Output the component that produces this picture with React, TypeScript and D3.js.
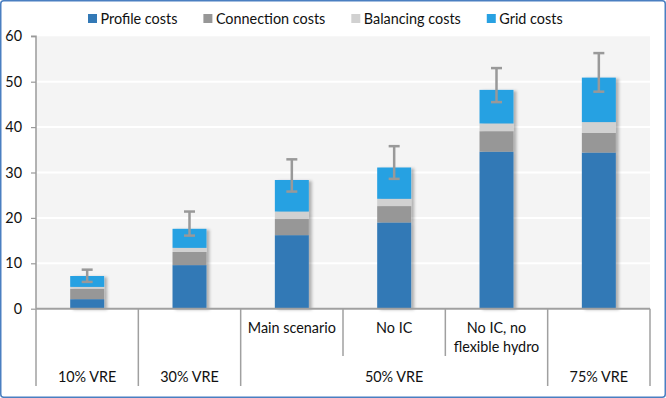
import React, { useEffect, useRef } from 'react';
import * as d3 from 'd3';

// categories (unique keys), bottom labels
const categories = ['10% VRE', '30% VRE', 'Main scenario', 'No IC', 'No IC, no flexible hydro', '75% VRE'];
const scenarioLabels = [[], [], ['Main scenario'], ['No IC'], ['No IC, no', 'flexible hydro'], []];
const groupLabels = ['10% VRE', '30% VRE', '50% VRE', '75% VRE'];
const groupSpans = [1, 1, 3, 1];

// stacked components
const seriesNames = ['Profile costs', 'Connection costs', 'Balancing costs', 'Grid costs'];
const profile = [2.1, 9.6, 16.2, 19.0, 34.6, 34.4];
const connection = [2.3, 2.9, 3.55, 3.6, 4.5, 4.3];
const balancing = [0.4, 0.9, 1.65, 1.6, 1.7, 2.4];
const grid = [2.4, 4.2, 6.95, 6.9, 7.4, 9.8];

// error bar range
const errLow = [5.9, 16.1, 25.8, 28.6, 45.5, 47.8];
const errHigh = [8.6, 21.4, 32.9, 35.8, 53.0, 56.3];

const yTicks = [0, 10, 20, 30, 40, 50, 60];

const colors = ['#3379b6', '#979797', '#d1d1d1', '#28a1e2'];

const W = 666;
const H = 398;

export default function App() {
  const svgRef = useRef<SVGSVGElement | null>(null);

  useEffect(() => {
    const svg = d3.select(svgRef.current);
    svg.selectAll('*').remove();

    const plot = { left: 36, right: 650, top: 36.3, bottom: 308.7 };
    const font = 'Lato, "Open Sans", sans-serif';
    const fs = '14.4px';

    const defs = svg.append('defs');
    const f = defs
      .append('filter')
      .attr('id', 'shadow')
      .attr('x', '-20%')
      .attr('y', '-10%')
      .attr('width', '150%')
      .attr('height', '130%');
    f.append('feDropShadow')
      .attr('dx', 3)
      .attr('dy', 1)
      .attr('stdDeviation', 1.8)
      .attr('flood-color', '#000')
      .attr('flood-opacity', 0.28);

    // white background and outer border
    svg.append('rect').attr('width', W).attr('height', H).attr('fill', '#fff');
    svg
      .append('rect')
      .attr('x', 0.75)
      .attr('y', 0.75)
      .attr('width', W - 1.5)
      .attr('height', H - 1.5)
      .attr('rx', 3)
      .attr('fill', 'none')
      .attr('stroke', '#4a7fc1')
      .attr('stroke-width', 1.5);

    const x = d3
      .scaleBand()
      .domain(categories)
      .range([plot.left, plot.right])
      .paddingInner(0.668)
      .paddingOuter(0.334);

    const y = d3.scaleLinear().domain([0, 60]).range([plot.bottom, plot.top]);

    // plot background + gridlines
    svg
      .append('rect')
      .attr('x', plot.left)
      .attr('y', plot.top)
      .attr('width', plot.right - plot.left)
      .attr('height', plot.bottom - plot.top)
      .attr('fill', '#f4f4f4');

    svg
      .append('g')
      .selectAll('line')
      .data(yTicks.filter((t) => t > 0 && t < 60))
      .join('line')
      .attr('x1', plot.left)
      .attr('x2', plot.right)
      .attr('y1', (d) => y(d))
      .attr('y2', (d) => y(d))
      .attr('stroke', '#ffffff')
      .attr('stroke-width', 2);

    // stacked bars
    const table = categories.map((c, i) => ({
      cat: c,
      'Profile costs': profile[i],
      'Connection costs': connection[i],
      'Balancing costs': balancing[i],
      'Grid costs': grid[i],
    }));
    const stacked = d3.stack<any>().keys(seriesNames)(table);

    const barGroups = svg
      .append('g')
      .selectAll('g')
      .data(categories)
      .join('g')
      .attr('filter', 'url(#shadow)');

    barGroups.each(function (cat, i) {
      const g = d3.select(this);
      stacked.forEach((s, k) => {
        const d = s[i];
        g.append('rect')
          .attr('x', x(cat)!)
          .attr('y', y(d[1]))
          .attr('width', x.bandwidth())
          .attr('height', y(d[0]) - y(d[1]))
          .attr('fill', colors[k]);
      });
    });

    // error bars
    const eb = svg.append('g').attr('stroke', '#999999');
    categories.forEach((cat, i) => {
      const cx = x(cat)! + x.bandwidth() / 2;
      eb.append('line')
        .attr('x1', cx)
        .attr('x2', cx)
        .attr('y1', y(errLow[i]))
        .attr('y2', y(errHigh[i]))
        .attr('stroke-width', 2.5);
      [errLow[i], errHigh[i]].forEach((v) => {
        eb.append('line')
          .attr('x1', cx - 5.5)
          .attr('x2', cx + 5.5)
          .attr('y1', y(v))
          .attr('y2', y(v))
          .attr('stroke-width', 2.5);
      });
    });

    // y axis
    const yAxis = svg
      .append('g')
      .attr('transform', `translate(${plot.left},0)`)
      .call(d3.axisLeft(y).tickValues(yTicks).tickSize(5).tickPadding(9))
      .call((g) => g.select('.domain').attr('stroke', '#9a9a9a').attr('stroke-width', 1.5).attr('d', `M-5,${plot.top}H0V${plot.bottom}`));
    yAxis.selectAll('.tick line').attr('stroke', '#9a9a9a').attr('stroke-width', 1.2);
    yAxis
      .selectAll('.tick text')
      .attr('fill', '#111')
      .style('font-family', font)
      .style('font-size', fs);

    // category axis
    const axisColor = '#a0a0a0';
    const step = x.step();
    const x0 = plot.left;
    svg
      .append('line')
      .attr('x1', plot.left)
      .attr('x2', plot.right)
      .attr('y1', plot.bottom)
      .attr('y2', plot.bottom)
      .attr('stroke', axisColor)
      .attr('stroke-width', 2);

    // group boundaries (full height)
    const bounds: number[] = [0];
    groupSpans.reduce((acc, s) => {
      bounds.push(acc + s);
      return acc + s;
    }, 0);
    const fullBottom = 386;
    const midBottom = 356;
    svg
      .append('g')
      .selectAll('line')
      .data(d3.range(categories.length + 1))
      .join('line')
      .attr('x1', (i) => x0 + i * step)
      .attr('x2', (i) => x0 + i * step)
      .attr('y1', plot.bottom)
      .attr('y2', (i) => (bounds.includes(i) ? fullBottom : midBottom))
      .attr('stroke', axisColor)
      .attr('stroke-width', 1.5);

    // scenario labels
    categories.forEach((cat, i) => {
      const cx = x(cat)! + x.bandwidth() / 2;
      scenarioLabels[i].forEach((line, j) => {
        svg
          .append('text')
          .attr('x', cx)
          .attr('y', 333 + j * 19)
          .attr('text-anchor', 'middle')
          .attr('fill', '#111')
          .style('font-family', font)
          .style('font-size', fs)
          .text(line);
      });
    });

    // group labels
    groupLabels.forEach((lab, gi) => {
      const cx = x0 + ((bounds[gi] + bounds[gi + 1]) / 2) * step;
      svg
        .append('text')
        .attr('x', cx)
        .attr('y', 382)
        .attr('text-anchor', 'middle')
        .attr('fill', '#111')
        .style('font-family', font)
        .style('font-size', fs)
        .text(lab);
    });

    // legend
    const legend = svg.append('g');
    let lx = 88;
    seriesNames.forEach((name, k) => {
      legend
        .append('rect')
        .attr('x', lx)
        .attr('y', 14)
        .attr('width', 9)
        .attr('height', 9)
        .attr('fill', colors[k]);
      const t = legend
        .append('text')
        .attr('x', lx + 12.5)
        .attr('y', 23.5)
        .attr('fill', '#111')
        .style('font-family', font)
        .style('font-size', fs)
        .text(name);
      const w = (t.node() as SVGTextElement).getComputedTextLength();
      lx += 12.5 + w + 26;
    });
  }, []);

  return (
    <svg
      ref={svgRef}
      width={W}
      height={H}
      style={{ position: 'absolute', left: 0, top: 0, display: 'block' }}
    ></svg>
  );
}
